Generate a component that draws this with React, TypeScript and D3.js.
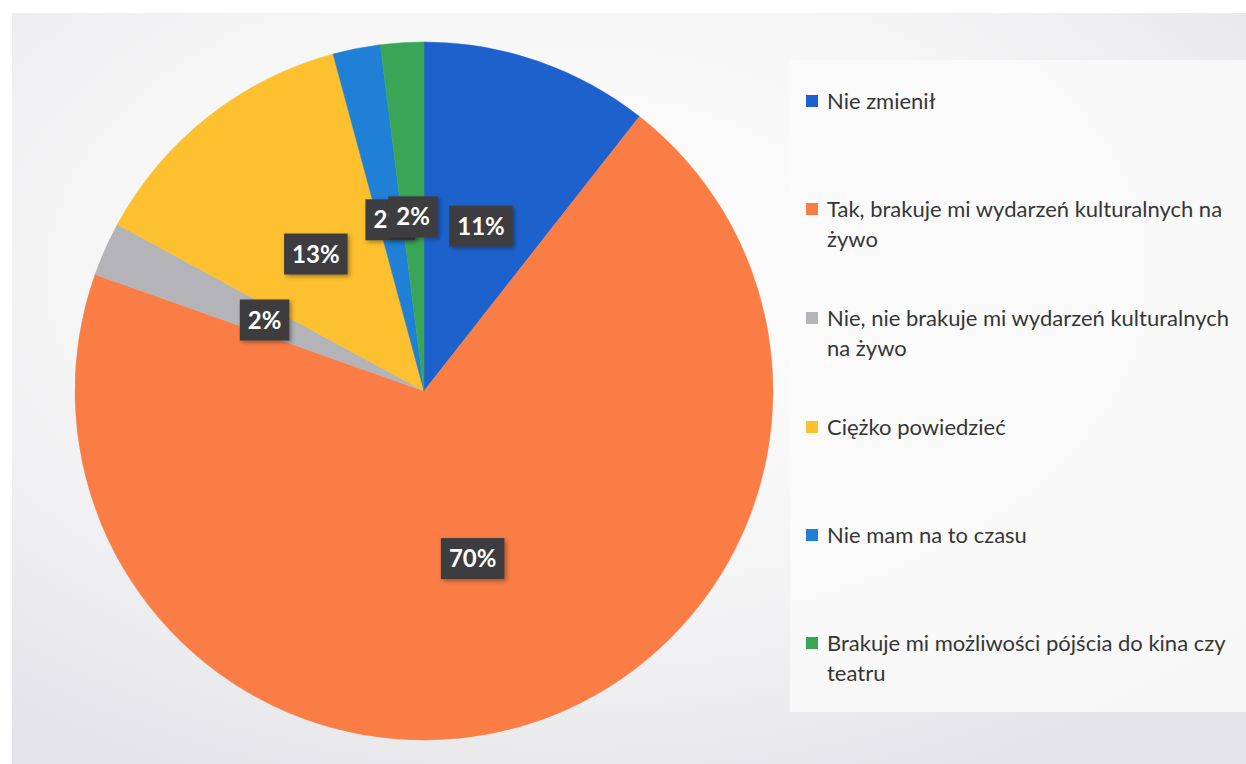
import React, { useEffect, useRef } from 'react';
import * as d3 from 'd3';

// answers (share of responses, %)
const categories = [
  'Nie zmienił',
  'Tak, brakuje mi wydarzeń kulturalnych na żywo',
  'Nie, nie brakuje mi wydarzeń kulturalnych na żywo',
  'Ciężko powiedzieć',
  'Nie mam na to czasu',
  'Brakuje mi możliwości pójścia do kina czy teatru',
];
const values = [10.6, 69.9, 2.5, 12.9, 2.2, 2.0];
const labels = ['11%', '70%', '2%', '13%', '2%', '2%'];
// legend text as wrapped in the original
const legendLines = [
  ['Nie zmienił'],
  ['Tak, brakuje mi wydarzeń kulturalnych na', 'żywo'],
  ['Nie, nie brakuje mi wydarzeń kulturalnych', 'na żywo'],
  ['Ciężko powiedzieć'],
  ['Nie mam na to czasu'],
  ['Brakuje mi możliwości pójścia do kina czy', 'teatru'],
];
const colors = ['#1d62cc', '#fa7d45', '#b4b3b8', '#fdc02e', '#1f80d6', '#3aa556'];

const W = 1246, H = 764;

export default function App() {
  const ref = useRef<SVGSVGElement>(null);

  useEffect(() => {
    const svg = d3.select(ref.current);
    svg.selectAll('*').remove();

    const defs = svg.append('defs');
    const rg = defs.append('radialGradient').attr('id', 'paper')
      .attr('cx', '45%').attr('cy', '35%').attr('r', '75%');
    rg.append('stop').attr('offset', '0%').attr('stop-color', '#ffffff');
    rg.append('stop').attr('offset', '55%').attr('stop-color', '#f5f5f6');
    rg.append('stop').attr('offset', '100%').attr('stop-color', '#e4e4e8');
    const f = defs.append('filter').attr('id', 'sh').attr('x', '-20%').attr('y', '-20%').attr('width', '150%').attr('height', '150%');
    f.append('feDropShadow').attr('dx', 2).attr('dy', 2).attr('stdDeviation', 2)
      .attr('flood-color', '#000').attr('flood-opacity', 0.35);

    // scanned page background
    svg.append('rect').attr('width', W).attr('height', H).attr('fill', '#ffffff');
    svg.append('rect').attr('x', 12).attr('y', 13).attr('width', W - 12).attr('height', H - 13)
      .attr('fill', 'url(#paper)');
    svg.append('rect').attr('x', 790).attr('y', 60).attr('width', W - 790).attr('height', 652)
      .attr('fill', '#fafafa').attr('opacity', 0.85);

    const cx = 424, cy = 391, r = 349;
    const pie = d3.pie<number>().sort(null).value(d => d);
    const arcs = pie(values);
    const arc = d3.arc<d3.PieArcDatum<number>>().innerRadius(0).outerRadius(r);

    const g = svg.append('g').attr('transform', `translate(${cx},${cy})`);
    g.selectAll('path.slice').data(arcs).enter().append('path')
      .attr('class', 'slice')
      .attr('d', arc)
      .attr('fill', (d, i) => colors[i])
      .attr('stroke', (d, i) => colors[i])
      .attr('stroke-width', 0.5);

    // data labels at the centroid
    arcs.forEach((d, i) => {
      const [lx, ly] = arc.centroid(d);
      const lg = g.append('g').attr('transform', `translate(${lx},${ly})`);
      const box = lg.append('rect').attr('fill', '#3e3e40').attr('filter', 'url(#sh)');
      const t = lg.append('text')
        .attr('text-anchor', 'middle').attr('dy', '0.36em')
        .attr('fill', '#ffffff').attr('font-family', 'Lato, sans-serif')
        .attr('font-weight', 'bold').attr('font-size', 24)
        .text(labels[i]);
      const tw = (t.node() as SVGTextElement).getComputedTextLength();
      const bw = tw + 16, bh = 41;
      box.attr('x', -bw / 2).attr('y', -bh / 2).attr('width', bw).attr('height', bh);
    });

    // legend
    const lgX = 806;
    const rowY = [101, 209, 318, 427, 535, 643];
    const leg = svg.append('g').attr('font-family', 'Lato, sans-serif').attr('font-size', 22).attr('fill', '#363636');
    categories.forEach((c, i) => {
      leg.append('rect').attr('x', lgX).attr('y', rowY[i] - 6).attr('width', 12).attr('height', 12)
        .attr('fill', colors[i]);
      legendLines[i].forEach((line, k) => {
        leg.append('text').attr('x', lgX + 21).attr('y', rowY[i] + k * 30).attr('dy', '0.35em').text(line);
      });
    });
  }, []);

  return (
    <svg ref={ref} width={W} height={H}
      style={{ position: 'absolute', left: 0, top: 0, display: 'block' }} />
  );
}
